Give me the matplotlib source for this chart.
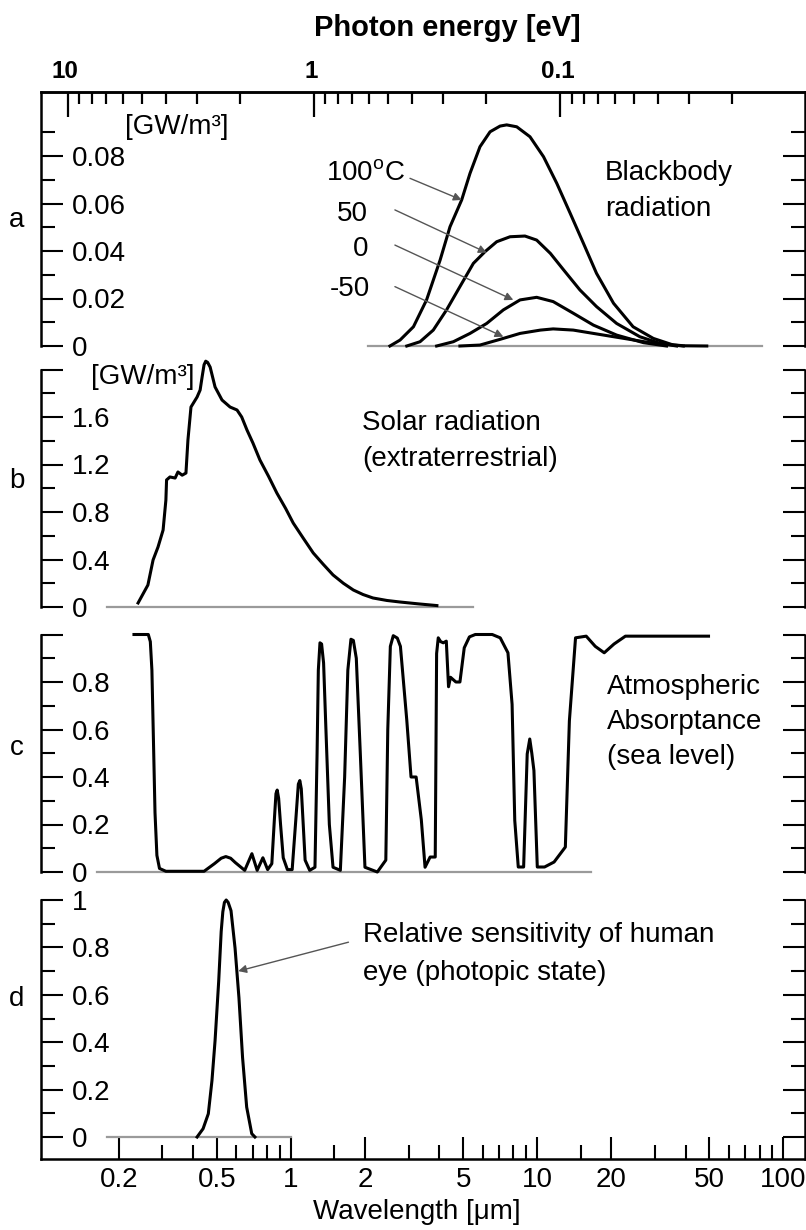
import numpy as np
import matplotlib
matplotlib.use('Agg')
import matplotlib.pyplot as plt
from matplotlib.ticker import FixedLocator, NullFormatter

plt.rcParams['font.family'] = ['Liberation Sans', 'DejaVu Sans']
plt.rcParams['mathtext.fontset'] = 'custom'
plt.rcParams['mathtext.rm'] = 'Liberation Sans'

# ---------------------------------------------------------------------------
# values (wavelength in um)

# a: blackbody radiation [GW/m3]
bb100_wl = [2.52, 2.77, 3.14, 3.55, 4.03, 4.42, 4.93, 5.33, 5.85, 6.43, 7.06, 7.51,
            8.25, 9.34, 10.6, 12.0, 13.6, 15.4, 17.4, 20.4, 24.5, 29.6, 35.7, 39.2]
bb100_val = [0.0, 0.0025, 0.0081, 0.0194, 0.0362, 0.0502, 0.0615, 0.0727, 0.0839,
             0.0902, 0.0926, 0.0931, 0.0923, 0.0881, 0.0797, 0.0685, 0.0559, 0.0432,
             0.0306, 0.018, 0.0081, 0.0032, 0.0004, 0.0]
bb50_wl = [2.95, 3.34, 3.78, 4.28, 4.85, 5.50, 6.13, 6.84, 7.75, 8.91, 9.94, 11.3,
           12.8, 14.9, 17.4, 21.0, 26.1, 31.5, 36.8]
bb50_val = [0.0, 0.0018, 0.0067, 0.0152, 0.025, 0.0348, 0.0397, 0.0439, 0.046, 0.0463,
            0.0446, 0.039, 0.032, 0.0236, 0.0166, 0.0095, 0.0039, 0.0011, 0.0]
bb0_wl = [3.90, 4.56, 5.33, 6.23, 7.28, 8.51, 9.94, 11.6, 14.0, 16.9, 21.0, 27.0, 33.5]
bb0_val = [0.0, 0.0018, 0.0053, 0.0095, 0.0152, 0.0194, 0.0205, 0.0187, 0.0138,
           0.0088, 0.0046, 0.0014, 0.0]
bbm50_wl = [4.85, 5.85, 7.06, 8.51, 10.3, 11.6, 14.0, 16.9, 21.0, 28.7, 39.2, 48.8]
bbm50_val = [0.0, 0.0004, 0.0028, 0.0053, 0.0067, 0.0072, 0.0067, 0.0053, 0.0037,
             0.0014, 0.0001, 0.0]
bb_base = [2.05, 81.8]

# b: extraterrestrial solar radiation [GW/m3]
solar_wl = [0.239, 0.262, 0.275, 0.288, 0.302, 0.310, 0.312, 0.322, 0.338, 0.347,
            0.361, 0.374, 0.381, 0.392, 0.415, 0.427, 0.435, 0.443, 0.450, 0.458,
            0.469, 0.491, 0.524, 0.565, 0.603, 0.630, 0.662, 0.70, 0.747, 0.81,
            0.875, 0.95, 1.02, 1.12, 1.23, 1.35, 1.48, 1.63, 1.79, 1.96,
            2.15, 2.45, 2.77, 3.3, 3.91]
solar_val = [0.034, 0.185, 0.396, 0.505, 0.648, 0.90, 1.07, 1.095, 1.086, 1.137,
             1.11, 1.128, 1.406, 1.684, 1.768, 1.827, 1.937, 2.04, 2.07, 2.06,
             2.02, 1.853, 1.743, 1.684, 1.659, 1.60, 1.49, 1.38, 1.238, 1.1,
             0.96, 0.83, 0.707, 0.58, 0.455, 0.36, 0.27, 0.2, 0.143, 0.105,
             0.076, 0.055, 0.042, 0.026, 0.012]
solar_base = [0.179, 5.48]

# c: atmospheric absorptance (sea level)
atm_wl = [0.230, 0.263, 0.268, 0.272, 0.276, 0.280, 0.285, 0.292, 0.31, 0.443,
          0.488, 0.52, 0.543, 0.568, 0.593, 0.648, 0.693, 0.728, 0.768, 0.803,
          0.835, 0.855, 0.868, 0.878, 0.890, 0.906, 0.929, 0.966, 1.01, 1.045,
          1.07, 1.085, 1.10, 1.12, 1.14, 1.19, 1.25, 1.275, 1.29, 1.31,
          1.33, 1.355, 1.385, 1.43, 1.48, 1.585, 1.65, 1.70, 1.75, 1.79,
          1.84, 1.91, 1.995, 2.24, 2.425, 2.47, 2.53, 2.6, 2.7, 2.78,
          2.95, 3.07, 3.22, 3.38, 3.5, 3.67, 3.85, 3.9, 3.96, 4.05,
          4.15, 4.27, 4.36, 4.44, 4.67, 4.85, 5.05, 5.3, 5.6, 6.56,
          7.07, 7.6, 7.9, 8.1, 8.37, 8.8, 9.1, 9.32, 9.5, 9.69,
          10.0, 10.7, 11.7, 13.0, 13.5, 14.3, 15.8, 17.2, 18.7, 20.5,
          22.8, 49.6]
atm_val = [1.0, 1.0, 0.97, 0.85, 0.55, 0.25, 0.07, 0.015, 0.003, 0.003,
           0.035, 0.058, 0.065, 0.058, 0.04, 0.007, 0.077, 0.007, 0.06, 0.01,
           0.035, 0.22, 0.33, 0.345, 0.31, 0.2, 0.06, 0.01, 0.01, 0.22,
           0.37, 0.385, 0.35, 0.2, 0.05, 0.007, 0.02, 0.5, 0.85, 0.965,
           0.96, 0.88, 0.6, 0.2, 0.02, 0.007, 0.4, 0.85, 0.98, 0.975,
           0.9, 0.5, 0.02, 0.0, 0.05, 0.6, 0.95, 0.995, 0.985, 0.95,
           0.64, 0.40, 0.40, 0.22, 0.02, 0.063, 0.063, 0.92, 0.986, 0.97,
           0.965, 0.972, 0.78, 0.82, 0.80, 0.80, 0.944, 0.99, 1.0, 1.0,
           0.986, 0.923, 0.706, 0.217, 0.021, 0.021, 0.497, 0.56, 0.5, 0.427,
           0.021, 0.021, 0.042, 0.105, 0.636, 0.986, 0.993, 0.95, 0.923, 0.96,
           0.993, 0.993]
atm_base = [0.163, 16.5]

# d: relative sensitivity of the human eye
eye_wl = [0.415, 0.439, 0.461, 0.477, 0.491, 0.508, 0.520, 0.528, 0.536, 0.545,
          0.555, 0.570, 0.592, 0.614, 0.635, 0.660, 0.692, 0.713]
eye_val = [0.0, 0.035, 0.098, 0.238, 0.406, 0.657, 0.867, 0.95, 0.99, 1.0,
           0.99, 0.955, 0.797, 0.587, 0.336, 0.126, 0.014, 0.0]
eye_base = [0.179, 1.0]

# axis ticks
wl_major = [0.2, 0.5, 1, 2, 5, 10, 20, 50, 100]
wl_labels = ['0.2', '0.5', '1', '2', '5', '10', '20', '50', '100']
wl_minor = [0.3, 0.4, 0.6, 0.7, 0.8, 0.9, 1.5, 3, 4, 6, 7, 8, 9, 15,
            30, 40, 60, 70, 80, 90]
ev_major = [10, 1, 0.1]
ev_labels = ['10', '1', '0.1']
ev_minor = [9, 8, 7, 6, 5, 4, 3, 2, 0.9, 0.8, 0.7, 0.6, 0.5, 0.4, 0.3, 0.2,
            0.09, 0.08, 0.07, 0.06, 0.05, 0.04, 0.03, 0.02]

# ---------------------------------------------------------------------------
W, H = 806, 1230
fig = plt.figure(figsize=(W / 100, H / 100), dpi=100)
XLIM = (0.0964, 122.3)
LW = 2.2
GREY = '#9a9a9a'


def fx(x):
    return x / W


def fy(y):
    return 1 - y / H


def make_panel(top, bottom, zero, scale, yt, ylab, ymin, spine_lo=0.0, spine_hi=None):
    ax = fig.add_axes([41 / W, 1 - bottom / H, 764 / W, (bottom - top) / H])
    ax.set_xscale('log')
    ax.set_xlim(*XLIM)
    lo, hi = (zero - bottom) / scale, (zero - top) / scale
    ax.set_ylim(lo, hi)
    if spine_hi is None:
        spine_hi = hi
    for s in ['left', 'right']:
        ax.spines[s].set_bounds(spine_lo if spine_lo is not None else lo, spine_hi)
        ax.spines[s].set_linewidth(1.8)
    ax.spines['top'].set_visible(False)
    ax.spines['bottom'].set_visible(False)
    ax.tick_params(axis='x', which='both', bottom=False, top=False, labelbottom=False)
    ax.set_yticks(yt, labels=ylab)
    ax.yaxis.set_minor_locator(FixedLocator(ymin))
    ax.yaxis.set_minor_formatter(NullFormatter())
    ax.tick_params(axis='y', which='both', direction='in', left=True, right=True,
                   labelleft=True, width=1.5, labelsize=20, pad=-22)
    ax.tick_params(axis='y', which='major', length=15.5)
    ax.tick_params(axis='y', which='minor', length=10)
    plt.setp(ax.get_yticklabels(), ha='left')
    ax.patch.set_visible(False)
    return ax


ax_a = make_panel(92, 352, 346, 2375, [0, 0.02, 0.04, 0.06, 0.08],
                  ['0', '0.02', '0.04', '0.06', '0.08'],
                  [0.01, 0.03, 0.05, 0.07, 0.09])
ax_b = make_panel(366, 612, 607, 118.75, [0, 0.4, 0.8, 1.2, 1.6, 2.0],
                  ['0', '0.4', '0.8', '1.2', '1.6', ''],
                  [0.2, 0.6, 1.0, 1.4, 1.8], spine_hi=2.0)
ax_c = make_panel(632, 877, 872, 237.5, [0, 0.2, 0.4, 0.6, 0.8, 1.0],
                  ['0', '0.2', '0.4', '0.6', '0.8', ''],
                  [0.1, 0.3, 0.5, 0.7, 0.9], spine_hi=1.0)
ax_d = make_panel(900, 1159, 1137, 237, [0, 0.2, 0.4, 0.6, 0.8, 1.0],
                  ['0', '0.2', '0.4', '0.6', '0.8', '1'],
                  [0.1, 0.3, 0.5, 0.7, 0.9], spine_lo=None, spine_hi=1.0)

# frame top (panel a) and bottom wavelength axis (panel d)
ax_a.spines['top'].set_visible(True)
ax_a.spines['top'].set_linewidth(1.8)
ax_d.spines['bottom'].set_visible(True)
ax_d.spines['bottom'].set_linewidth(1.8)
ax_d.set_xticks(wl_major, labels=wl_labels)
ax_d.xaxis.set_minor_locator(FixedLocator(wl_minor))
ax_d.xaxis.set_minor_formatter(NullFormatter())
ax_d.tick_params(axis='x', which='both', bottom=True, labelbottom=True, direction='in',
                 width=1.5, labelsize=20, pad=5.8)
ax_d.tick_params(axis='x', which='major', length=15.8)
ax_d.tick_params(axis='x', which='minor', length=10)


def to_ev(x):
    x = np.asarray(x, dtype=float)
    with np.errstate(divide='ignore'):
        return 1.24 / x


# photon energy scale along the top edge; labels drawn as text above it
sec = ax_a.secondary_xaxis('top', functions=(to_ev, to_ev))
sec.set_ticks(ev_major, labels=['', '', ''])
sec.xaxis.set_minor_locator(FixedLocator(ev_minor))
sec.xaxis.set_minor_formatter(NullFormatter())
sec.tick_params(which='both', direction='in', width=1.6)
sec.tick_params(which='major', length=18)
sec.tick_params(which='minor', length=8.6)
sec.spines['top'].set_linewidth(1.8)
for e, lab in zip(ev_major, ev_labels):
    ax_a.annotate(lab, xy=(1.24 / e, 1), xycoords=('data', 'axes fraction'),
                  xytext=(-2, 6.5), textcoords='offset points', ha='center', va='bottom',
                  fontweight='bold', fontsize=17.5, annotation_clip=False)

# ---- curves ----
ax_a.plot(bb_base, [0, 0], color=GREY, lw=1.6)
for wl, val in [(bb100_wl, bb100_val), (bb50_wl, bb50_val),
                (bb0_wl, bb0_val), (bbm50_wl, bbm50_val)]:
    ax_a.plot(wl, val, color='black', lw=LW, solid_joinstyle='round', clip_on=False)

ax_b.plot(solar_base, [0, 0], color=GREY, lw=1.6)
ax_b.plot(solar_wl, solar_val, color='black', lw=LW, solid_joinstyle='round', clip_on=False)

ax_c.plot(atm_base, [0, 0], color=GREY, lw=1.6)
ax_c.plot(atm_wl, atm_val, color='black', lw=LW, solid_joinstyle='round', clip_on=False)

ax_d.plot(eye_base, [0, 0], color=GREY, lw=1.6)
ax_d.plot(eye_wl, eye_val, color='black', lw=LW, solid_joinstyle='round', clip_on=False)

# ---- arrows ----
arrow = dict(arrowstyle='-|>', color='#555555', lw=1.0, mutation_scale=12,
             shrinkA=0, shrinkB=0)
ax_a.annotate('', xy=(4.93, 0.0615), xytext=(3.04, 0.0706), arrowprops=arrow)
ax_a.annotate('', xy=(6.23, 0.0393), xytext=(2.64, 0.0573), arrowprops=arrow)
ax_a.annotate('', xy=(7.99, 0.0194), xytext=(2.64, 0.0425), arrowprops=arrow)
ax_a.annotate('', xy=(7.28, 0.0039), xytext=(2.64, 0.025), arrowprops=arrow)
ax_d.annotate('', xy=(0.61, 0.70), xytext=(1.71, 0.822), arrowprops=arrow)

# ---- texts ----
fs = 20
fig.text(fx(447), fy(28), 'Photon energy [eV]', ha='center', va='center',
         fontsize=21, fontweight='bold')
fig.text(fx(417), fy(1212), 'Wavelength [\u03bcm]', ha='center', va='center', fontsize=fs)

for lab, y in [('a', 220), ('b', 481), ('c', 748), ('d', 999)]:
    fig.text(fx(17), fy(y), lab, ha='center', va='center', fontsize=fs)

fig.text(fx(177), fy(127), '[GW/m\u00b3]', ha='center', va='center', fontsize=fs)
fig.text(fx(143), fy(377), '[GW/m\u00b3]', ha='center', va='center', fontsize=fs)

fig.text(fx(405), fy(174), r'100$^{\mathrm{o}}$C', ha='right', va='center', fontsize=fs)
fig.text(fx(368), fy(214), '50', ha='right', va='center', fontsize=fs)
fig.text(fx(368), fy(249), '0', ha='right', va='center', fontsize=fs)
fig.text(fx(370), fy(289), '-50', ha='right', va='center', fontsize=fs)

fig.text(fx(605), fy(173), 'Blackbody', ha='left', va='center', fontsize=fs)
fig.text(fx(605), fy(209), 'radiation', ha='left', va='center', fontsize=fs)

fig.text(fx(362), fy(423), 'Solar radiation', ha='left', va='center', fontsize=fs)
fig.text(fx(362), fy(459), '(extraterrestrial)', ha='left', va='center', fontsize=fs)

fig.text(fx(607), fy(687), 'Atmospheric', ha='left', va='center', fontsize=fs)
fig.text(fx(607), fy(722), 'Absorptance', ha='left', va='center', fontsize=fs)
fig.text(fx(607), fy(757), '(sea level)', ha='left', va='center', fontsize=fs)

fig.text(fx(363), fy(935), 'Relative sensitivity of human', ha='left', va='center', fontsize=fs)
fig.text(fx(363), fy(973), 'eye (photopic state)', ha='left', va='center', fontsize=fs)

fig.savefig('out.png', dpi=100)
